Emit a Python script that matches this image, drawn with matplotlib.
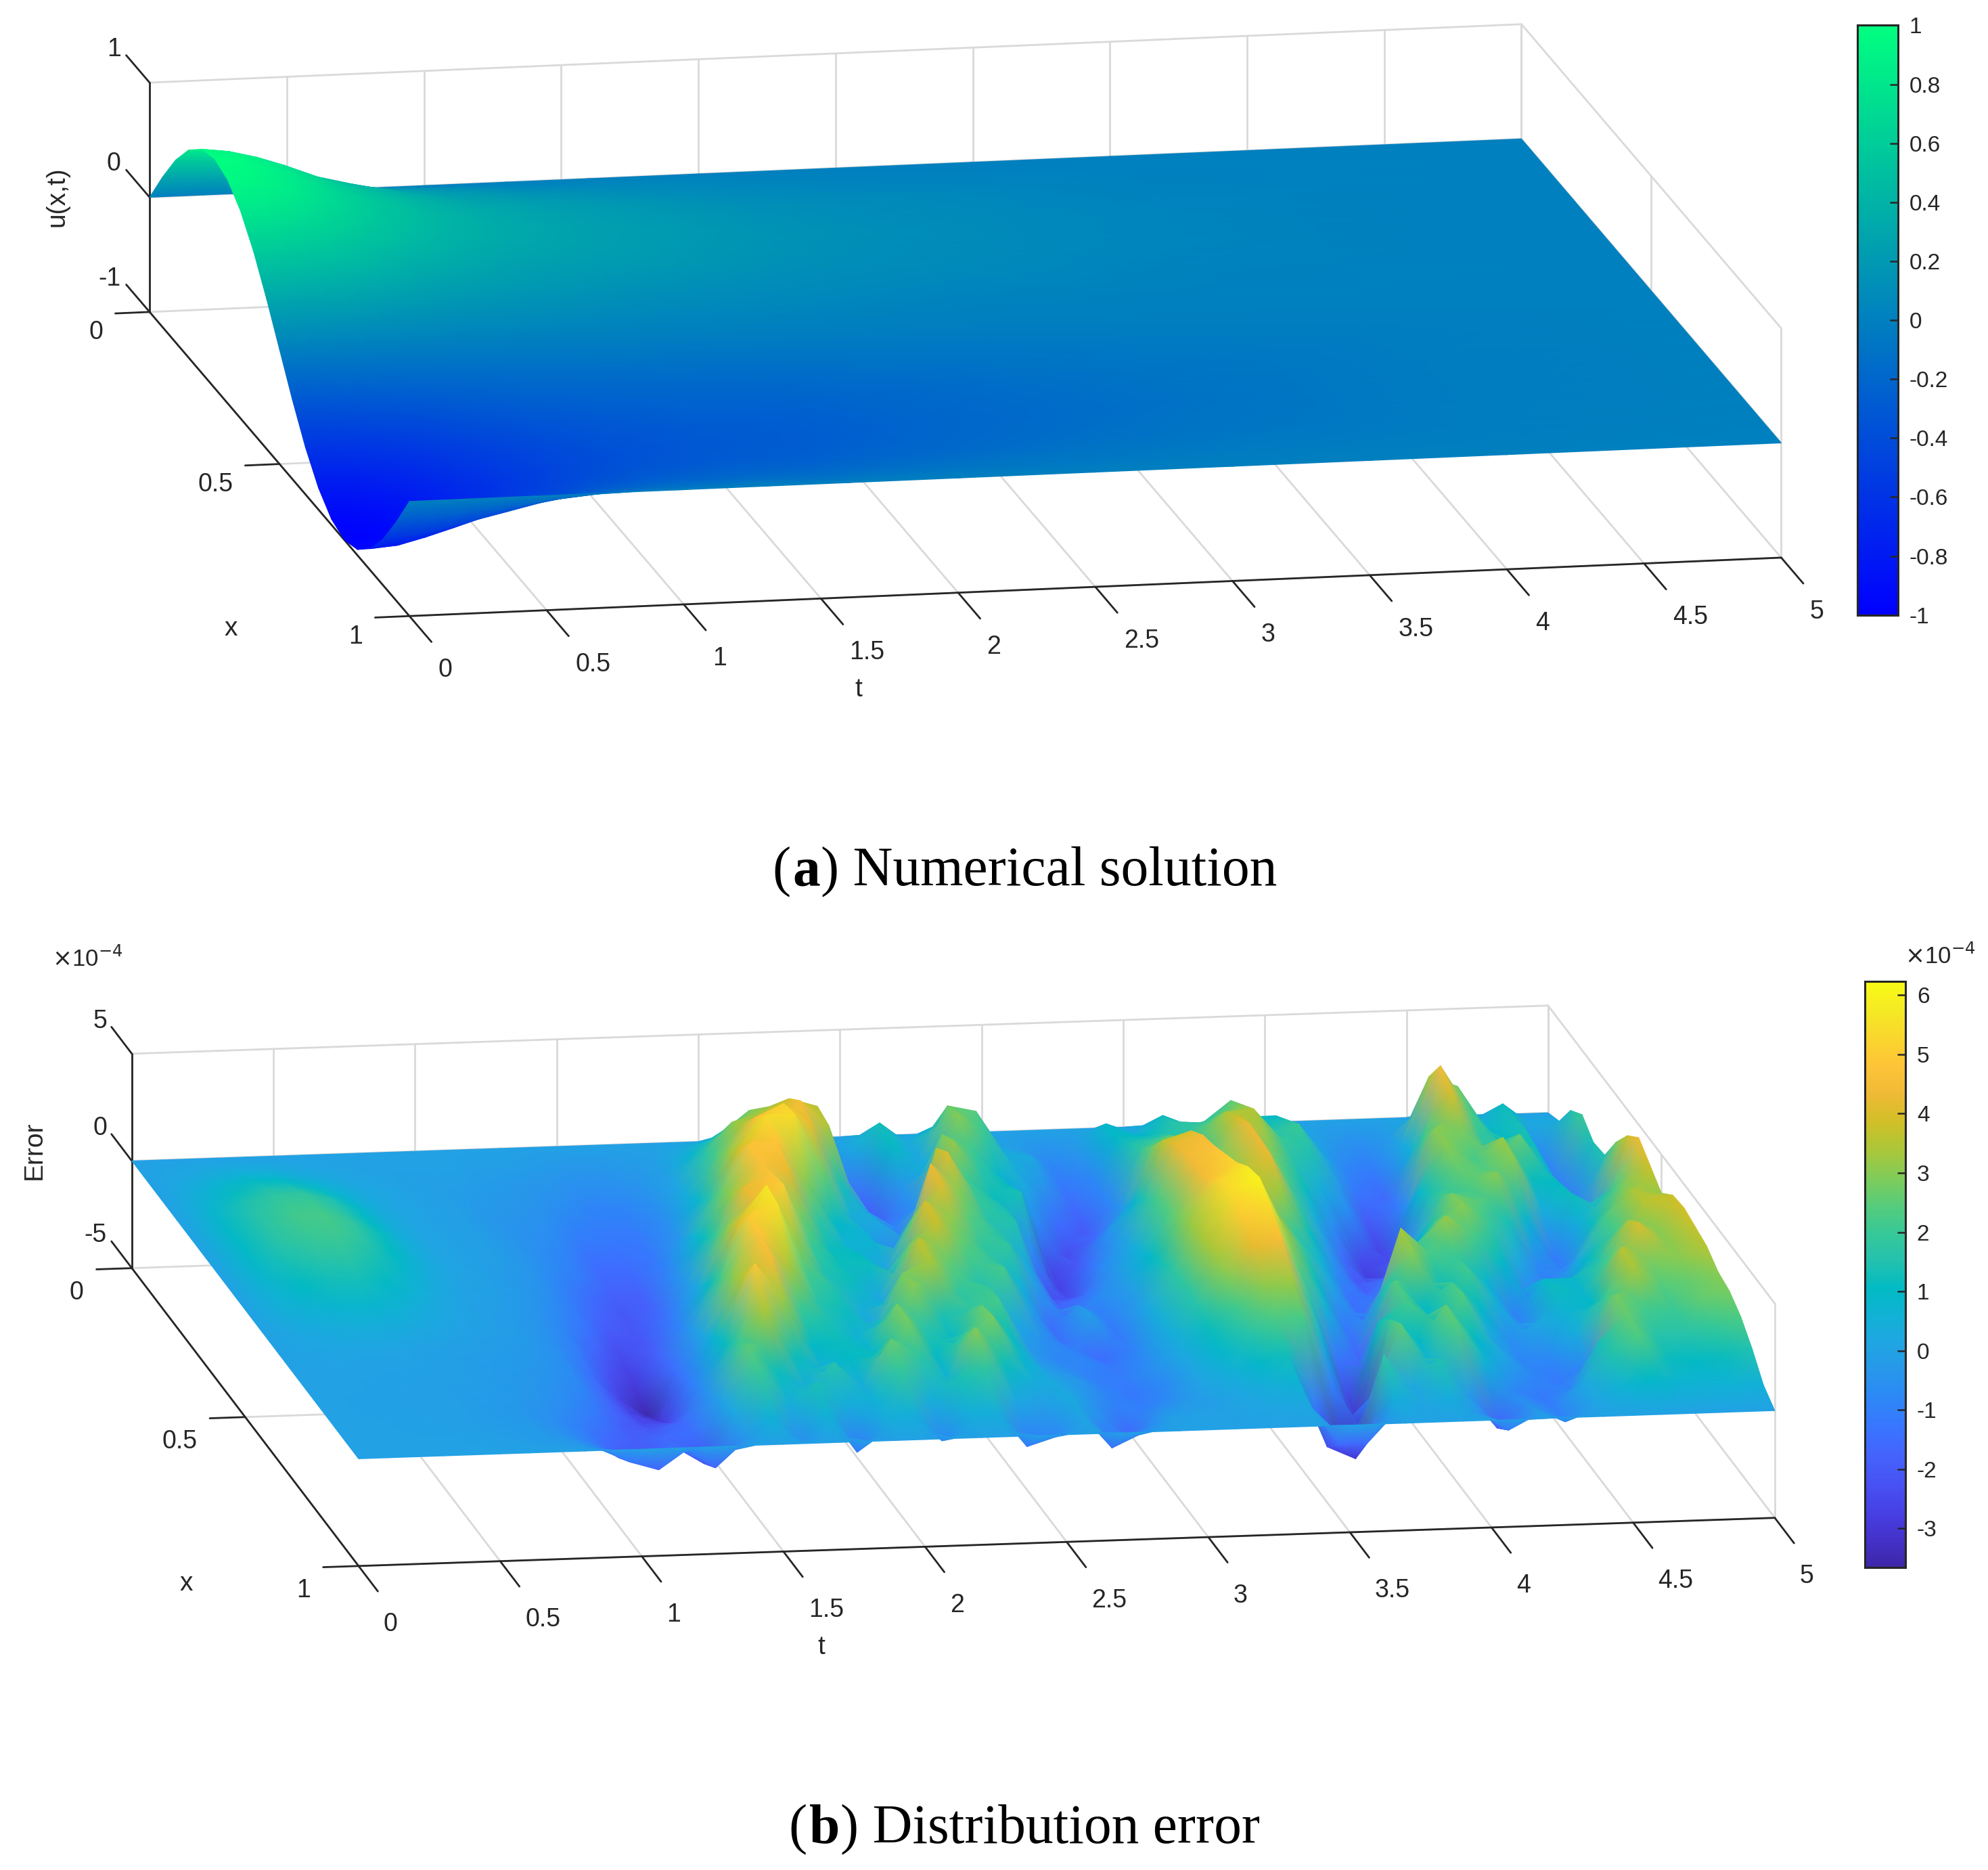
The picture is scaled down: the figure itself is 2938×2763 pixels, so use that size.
import matplotlib
matplotlib.use('Agg')
import matplotlib.pyplot as plt
import numpy as np
from matplotlib.cm import ScalarMappable
from matplotlib.colors import LinearSegmentedColormap, Normalize
from mpl_toolkits.mplot3d import proj3d

# Reference is 2938x2763, layout numbers below are in the 1568 wide preview
WIDTH = 2938
HEIGHT = 2763
SCALE = 2938 / 1568
TEXT = '#262626'
GRID = '#d9d9d9'

plt.rcParams['font.family'] = ['Liberation Sans', 'DejaVu Sans']

PARULA = [
    (0.2422, 0.1504, 0.6603), (0.2647, 0.1978, 0.7952), (0.2783, 0.2559, 0.8991),
    (0.2810, 0.3228, 0.9579), (0.2699, 0.3892, 0.9906), (0.2206, 0.4603, 0.9973),
    (0.1786, 0.5289, 0.9682), (0.1540, 0.5902, 0.9218), (0.1248, 0.6459, 0.8883),
    (0.0689, 0.6948, 0.8394), (0.0067, 0.7312, 0.7660), (0.1408, 0.7584, 0.6842),
    (0.2161, 0.7843, 0.5923), (0.3406, 0.8008, 0.4789), (0.5044, 0.7993, 0.3480),
    (0.6720, 0.7793, 0.2227), (0.8203, 0.7498, 0.1535), (0.9393, 0.7288, 0.2100),
    (0.9970, 0.7659, 0.2199), (0.9786, 0.8386, 0.1766), (0.9597, 0.9135, 0.1423),
    (0.9769, 0.9839, 0.0805),
]

# Panel (a), u(x,t): one row per t
u_x = [i * 0.05 for i in range(21)]
u_t = [0, .1, .2, .3, .45, .6, .8, 1, 1.3, 1.6, 2, 2.5, 3, 3.5, 4, 5]
u_by_t = [
    [0, .31, .59, .81, .95, 1, .95, .81, .59, .31, 0, -.31, -.59, -.81, -.95, -1, -.95, -.81, -.59, -.31, 0],
    [0, .3, .57, .79, .92, .97, .92, .79, .57, .3, 0, -.3, -.57, -.79, -.92, -.97, -.92, -.79, -.57, -.3, 0],
    [0, .28, .53, .73, .86, .9, .86, .73, .53, .28, 0, -.28, -.53, -.73, -.86, -.9, -.86, -.73, -.53, -.28, 0],
    [0, .25, .48, .66, .78, .82, .78, .66, .48, .25, 0, -.25, -.48, -.66, -.78, -.82, -.78, -.66, -.48, -.25, 0],
    [0, .21, .4, .54, .64, .67, .64, .54, .4, .21, 0, -.21, -.4, -.54, -.64, -.67, -.64, -.54, -.4, -.21, 0],
    [0, .17, .32, .45, .52, .55, .52, .45, .32, .17, 0, -.17, -.32, -.45, -.52, -.55, -.52, -.45, -.32, -.17, 0],
    [0, .13, .25, .35, .41, .43, .41, .35, .25, .13, 0, -.13, -.25, -.35, -.41, -.43, -.41, -.35, -.25, -.13, 0],
    [0, .11, .21, .28, .33, .35, .33, .28, .21, .11, 0, -.11, -.21, -.29, -.34, -.36, -.34, -.29, -.21, -.11, 0],
    [0, .08, .16, .22, .26, .27, .26, .22, .16, .08, 0, -.09, -.18, -.24, -.29, -.3, -.29, -.24, -.18, -.09, 0],
    [0, .07, .13, .18, .21, .22, .21, .18, .13, .07, 0, -.09, -.17, -.23, -.27, -.28, -.27, -.23, -.17, -.09, 0],
    [0, .05, .09, .13, .15, .16, .15, .13, .09, .05, 0, -.07, -.13, -.18, -.21, -.22, -.21, -.18, -.13, -.07, 0],
    [0, .03, .06, .09, .1, .11, .1, .09, .06, .03, 0, -.05, -.09, -.13, -.15, -.16, -.15, -.13, -.09, -.05, 0],
    [0, .02, .04, .06, .07, .07, .07, .06, .04, .02, 0, -.03, -.06, -.09, -.1, -.11, -.1, -.09, -.06, -.03, 0],
    [0, .01, .02, .03, .04, .04, .04, .03, .02, .01, 0, -.02, -.04, -.06, -.07, -.07, -.07, -.06, -.04, -.02, 0],
    [0, .01, .01, .02, .02, .02, .02, .02, .01, .01, 0, -.01, -.02, -.02, -.03, -.03, -.03, -.02, -.02, -.01, 0],
    [0] * 21,
]

# Panel (b), error in units of 1e-4: one row per x, t runs 0 to 5 in steps of 0.1
error_x = [i * 0.05 for i in range(21)]
error_t = [i * 0.1 for i in range(51)]
error_by_x = [
    [0] * 51,
    [0, .1, .2, .25, .25, .2, .1, .05, 0, 0,
     0, 0, -.1, -.1, -.2, -.3, -.3, -.2, -.1, .3,
     .8, 1.5, 1.6, 1, -.5, .3, 1.3, .3, 1.1, 1.1,
     .1, -.2, -.7, -.3, .9, .4, 1.2, .4, .8, 1,
     1, .2, -.3, -.7, -.2, .6, 1.5, .3, 1.2, .2, .3],
    [0, .25, .45, .6, .6, .45, .3, .15, .05, 0,
     -.1, -.1, -.2, -.3, -.4, -.6, -.6, -.4, -.1, .8,
     1.8, 2.8, 3, 2.2, -1.2, -1.6, 1.1, .2, 2.7, 2.4,
     .4, .2, -1.2, -.8, 1, 1, 1.6, 1.5, 2.5, 1.2,
     1.5, .3, -.8, -1.2, .2, 3.3, 2.8, .8, 1.3, -.8, 1.5],
    [0, .45, .8, 1, 1, .8, .55, .25, .1, 0,
     -.1, -.2, -.3, -.4, -.6, -.9, -.9, -.6, .1, 1.6,
     3, 3.4, 4, 3.6, -.4, -2, -.4, .6, 3, 1.8,
     .4, -.4, -1.6, -.9, 1.4, 1.6, 1.7, 2.4, 3, 1.6,
     2, .2, -1.2, -1.6, .6, 4.5, 2.4, 1, 1.4, -1, 2],
    [0, .65, 1.1, 1.4, 1.4, 1.15, .75, .35, .1, 0,
     -.1, -.3, -.4, -.5, -.9, -1.1, -1.1, -.7, .4, 2.2,
     3.6, 3.8, 4.6, 3.4, -.6, -1.4, -.6, 2.8, 2.2, .8,
     .2, -1.4, -2, -.8, 1.8, 2.4, 2, 3.4, 3.5, 2,
     1.5, -.2, -2, -1.2, 2, 4, 1.8, 1.6, 1.2, -1.2, 1.4],
    [0, .85, 1.45, 1.75, 1.8, 1.5, .95, .4, .1, 0,
     -.1, -.3, -.5, -.7, -1.2, -1.3, -1.2, -.6, .8, 3,
     4.6, 5.2, 4.2, 1.4, 0, -.8, .2, 3.2, 1.6, 1,
     -.8, -2.4, -1.6, -.2, 2.6, 3, 2.2, 3.9, 3.2, 1.6,
     .4, -.8, -2.6, -.6, 3, 2.8, 1.6, 2.6, .8, -1, 1.5],
    [0, .95, 1.6, 2, 2.05, 1.65, 1.05, .45, .1, 0,
     -.1, -.3, -.6, -.9, -1.5, -1.5, -1.2, -.2, 1.6, 3.8,
     5.4, 5.4, 2.6, .4, .2, -1.2, 3.6, 2.2, 1.2, 1.4,
     -2.7, -2, -.6, .8, 3.6, 4, 2.8, 4.3, 2.6, 1.2,
     -.6, -2.6, -2.4, .8, 3, 2.2, 3.2, 1.2, 1, -.6, 2.8],
    [0, 1, 1.7, 2.15, 2.2, 1.8, 1.15, .5, .1, 0,
     -.1, -.3, -.7, -1.1, -1.7, -1.7, -1, .6, 2.6, 4.8,
     4.8, 3, 1, .6, -.8, 1.6, 4.1, 2, 1.4, -.8,
     -2.7, -1.4, -.2, 1.6, 4.2, 4.5, 3, 4.3, 2.2, .4,
     -1.6, -3, -1.4, 1.4, 2.6, 2.4, 3, .3, 1.2, .4, 3.8],
    [0, .95, 1.6, 2, 2.1, 1.7, 1.05, .45, .1, 0,
     -.2, -.4, -.9, -1.5, -2, -1.8, -.6, 1.2, 3.2, 4.7,
     4.2, 1.8, .6, .7, -.4, 4.3, 3, 1.6, 1.5, -2.2,
     -2.3, -.8, .2, 2.2, 4.4, 4.7, 3.4, 4.2, 1.8, -.2,
     -2, -1.8, -.2, 2, 2.2, 3, .8, -1.2, .6, 2, 4.4],
    [0, .8, 1.35, 1.7, 1.75, 1.35, .85, .35, .05, -.05,
     -.2, -.5, -1.1, -1.8, -2.1, -1.6, -.2, 2, 4.2, 4.8,
     2.8, 1.2, 1, .1, 2.6, 4.1, 2.4, 1.6, .3, -1.8,
     -1.4, -.4, .6, 2.4, 4.4, 5, 3.8, 3.2, 1.2, -.8,
     -1.8, -.8, 1, 2.8, 2.4, 1.4, -.8, -1, 1.2, 2.8, 3.8],
    [0, .6, 1.05, 1.3, 1.35, 1, .6, .2, 0, -.1,
     -.3, -.7, -1.3, -2.2, -2.1, -1.2, .3, 3, 4.4, 5,
     2, 1.2, 1.2, .6, 4, 3, 1.8, 1.8, -.4, -1.6,
     -.8, -.2, 1, 2.8, 4.6, 5.3, 3.6, 2, .6, -1.4,
     -1.2, .2, 2.2, 3, 1.8, .2, -1.2, .2, 2.2, 3.4, 3.2],
    [0, .4, .65, .8, .8, .6, .35, .1, -.05, -.15,
     -.4, -.9, -1.7, -2.6, -1.9, -.8, 1.2, 4, 5.7, 3.2,
     1.5, 1.2, .2, 2.6, 3.8, 2.4, 1.8, .6, -1.5, -.4,
     -1, -.2, 1.4, 3.2, 5.2, 5.8, 3.6, 1.8, 0, -1.5,
     -.4, 2, 3.2, 2.2, 1, -1, -.8, 1, 2.2, 3.6, 3.8],
    [0, .2, .35, .4, .4, .3, .15, 0, -.1, -.2,
     -.5, -1.1, -2.2, -3, -1.6, -.2, 2.2, 5, 5.5, 2.2,
     1.5, .4, .6, 3.7, 2.6, 1.6, 2.2, -.2, -1.4, 0,
     -1.2, .2, 1.8, 3.4, 5.4, 6, 3.2, 1.2, -1.2, -.6,
     3.4, 2.2, 2, .8, -1, .8, .8, 1.6, 3.4, 3, 3.9],
    [0, .05, .15, .15, .1, 0, -.05, -.1, -.2, -.3,
     -.6, -1.4, -2.6, -3.6, -1.4, .2, 3, 4.8, 3.4, 1.6,
     1.2, .2, 2.8, 3.4, 1.8, 2, .3, -.6, -1, -1.5,
     -1, .4, 1.8, 3.4, 5, 5.4, 2.4, .4, -1.6, 1.4,
     3, 1.2, 2.1, .4, -.8, 1.2, .8, 2.4, 4, 3, 3.7],
    [0, 0, 0, 0, 0, -.05, -.1, -.15, -.25, -.4,
     -.7, -1.6, -2.6, -3, -1.2, .8, 3.6, 4.5, 2, 1.4,
     .6, 1.4, 3, 1.4, 1.8, 2.2, -.2, -.8, -.8, -1.2,
     -.8, .4, 1.6, 3, 4.2, 4.5, 1.6, -1.4, -1.8, 2.4,
     1, 2.2, 1, -.6, .2, .6, 1, 3.6, 2.8, 3, 3.5],
    [0, 0, 0, -.05, -.05, -.1, -.1, -.2, -.3, -.5,
     -.9, -1.7, -2.4, -2.4, -.8, 1.2, 4.9, 3.2, 1, 1.2,
     .8, 2.8, 1.6, .9, 2.6, 1.2, -.2, -.6, -1, -1.1,
     -.6, .3, 1.2, 2.2, 3.1, 3.2, .6, -3, 1.2, 2.2,
     1.2, 2.4, .2, -.8, -.8, .4, 2, 3.4, 2.4, 2.6, 3],
    [0, 0, -.05, -.05, -.1, -.1, -.15, -.25, -.4, -.7,
     -1.2, -1.9, -2, -1.6, -.4, 2, 3.4, 1.2, .5, 1,
     1.2, 2.8, 1, 2, 2.8, .8, 0, -.3, -.9, -1.2,
     -.8, .2, .9, 1.6, 2.4, 2.2, -1, -3, 2, 1,
     2.6, 1, .2, -.8, -1.2, -1, 2.8, 2.2, 2, 2.6, 2.8],
    [0, 0, -.05, -.05, -.1, -.1, -.2, -.3, -.6, -1,
     -1.6, -1.9, -1.6, -1.4, 0, 2.5, 1.2, .4, 1.6, .4,
     2.6, 1.8, .6, 3, 1.2, .4, .2, -.4, -1, -1,
     -.6, .1, .5, .9, 1.3, -1.2, -3.4, -.8, 2.5, .6,
     2.4, .6, -.8, -1.2, -.8, 1.4, 2.6, 1.6, 1.6, 2, 2.3],
    [0, 0, 0, -.05, -.05, -.1, -.15, -.25, -.5, -1,
     -1.8, -2.2, -1.4, -2.2, .2, 2, .4, 1.4, .4, .6,
     2, .4, 1.4, 1.8, .2, -.2, .3, -.6, -1.6, -.5,
     -.2, -.1, .2, .4, .7, -2.4, -3, 1.8, .2, 1.5,
     -.2, -1.8, -.6, -1, .2, 1.5, 2.4, 1.2, 1, 1.2, 1.5],
    [0, 0, 0, 0, 0, -.05, -.1, -.15, -.3, -.7,
     -1.3, -1.7, -.8, -1.7, -.4, .6, -.6, .6, -1.2, .4,
     .5, -.8, .5, .4, -1.2, -.8, .1, -1.4, -.8, -.1,
     0, 0, .05, .1, .2, -1.6, -1.6, .5, .1, .4,
     -.4, -1.2, -.3, -.9, .1, .6, 1, .7, .6, .6, .5],
    [0] * 51,
]

t_ticks = [0, .5, 1, 1.5, 2, 2.5, 3, 3.5, 4, 4.5, 5]
t_tick_labels = ['0', '0.5', '1', '1.5', '2', '2.5', '3', '3.5', '4', '4.5', '5']
x_ticks = [0, .5, 1]
x_tick_labels = ['0', '0.5', '1']
u_ticks = [-1, 0, 1]
u_tick_labels = ['-1', '0', '1']
error_ticks = [-5, 0, 5]
error_tick_labels = ['-5', '0', '5']
u_bar_ticks = [-1, -.8, -.6, -.4, -.2, 0, .2, .4, .6, .8, 1]
u_bar_labels = ['-1', '-0.8', '-0.6', '-0.4', '-0.2', '0', '0.2', '0.4', '0.6', '0.8', '1']
error_bar_ticks = [-3, -2, -1, 0, 1, 2, 3, 4, 5, 6]
error_bar_labels = ['-3', '-2', '-1', '0', '1', '2', '3', '4', '5', '6']


def to_fig(px, py):
    """Preview pixel (origin top left) to figure fraction"""
    return px * SCALE / WIDTH, 1 - py * SCALE / HEIGHT


def to_screen(ax, t, x, z):
    px, py, _ = proj3d.proj_transform(np.array([t]), np.array([x]), np.array([z]), ax.get_proj())
    return ax.transData.transform([[px[0], py[0]]])[0]


def fit_box(ax, aspect, zmin, origin, far):
    """Scale and shift the 3D box so its floor edge falls on the two given points"""
    ax.set_box_aspect(aspect, zoom=1)
    ax.apply_aspect()
    want0 = np.array([origin[0] * SCALE, HEIGHT - origin[1] * SCALE])
    want1 = np.array([far[0] * SCALE, HEIGHT - far[1] * SCALE])
    got = np.linalg.norm(to_screen(ax, 5, 0, zmin) - to_screen(ax, 0, 0, zmin))
    ax.set_box_aspect(aspect, zoom=np.linalg.norm(want1 - want0) / got)
    shift = want0 - to_screen(ax, 0, 0, zmin)
    pos = ax.get_position()
    ax.set_position([pos.x0 + shift[0] / WIDTH, pos.y0 + shift[1] / HEIGHT, pos.width, pos.height])


def line3(ax, p, q, color, lw=2.0):
    ax.plot([p[0], q[0]], [p[1], q[1]], [p[2], q[2]], color=color, lw=lw, clip_on=False,
            solid_capstyle='round')


def label3(ax, t, x, z, label, ha):
    # tick labels sit at a projected point, in figure coordinates
    sx, sy = to_screen(ax, t, x, z)
    fig.text(sx / WIDTH, sy / HEIGHT, label, ha=ha, va='center', color=TEXT, fontsize=27)


def draw_box(ax, zmin, zmax, z_ticks, z_labels, z_drop):
    mid = (zmin + zmax) / 2
    # walls and floor
    for t in t_ticks:
        line3(ax, (t, 0, zmin), (t, 1, zmin), GRID)
        line3(ax, (t, 0, zmin), (t, 0, zmax), GRID)
    for x in x_ticks:
        line3(ax, (0, x, zmin), (5, x, zmin), GRID)
        line3(ax, (5, x, zmin), (5, x, zmax), GRID)
    for z in (mid, zmax):
        line3(ax, (0, 0, z), (5, 0, z), GRID)
        line3(ax, (5, 0, z), (5, 1, z), GRID)
    # axes
    line3(ax, (0, 0, zmin), (0, 0, zmax), TEXT)
    line3(ax, (0, 0, zmin), (0, 1, zmin), TEXT)
    line3(ax, (0, 1, zmin), (5, 1, zmin), TEXT)
    for t, label in zip(t_ticks, t_tick_labels):
        line3(ax, (t, 1, zmin), (t, 1.085, zmin), TEXT)
        label3(ax, t, 1.11, zmin - z_drop, label, 'left')
    for x, label in zip(x_ticks, x_tick_labels):
        line3(ax, (0, x, zmin), (-.125, x, zmin), TEXT)
        label3(ax, -.17, x, zmin - z_drop * .9, label, 'right')
    for z, label in zip(z_ticks, z_labels):
        line3(ax, (0, 0, z), (0, -.09, z), TEXT)
        label3(ax, 0, -.11, z, label, 'right')


def draw_surface(ax, x_values, t_values, z_values, cmap, norm):
    # far rows first and later t first, so the mesh paints back to front
    grid_t, grid_x = np.meshgrid(np.array(t_values)[::-1], np.array(x_values))
    zs = np.array(z_values, dtype=float)[:, ::-1]
    px, py, _ = proj3d.proj_transform(grid_t.ravel(), grid_x.ravel(), zs.ravel(), ax.get_proj())
    top = fig.add_axes(ax.get_position())
    top.set_axis_off()
    top.pcolormesh(px.reshape(zs.shape), py.reshape(zs.shape), zs, shading='gouraud', cmap=cmap,
                   norm=norm, transform=ax.transData, clip_on=False)


def draw_bar(left, right, top, bottom, cmap, norm, ticks, labels):
    x0, y1 = to_fig(left, top)
    x1, y0 = to_fig(right, bottom)
    cax = fig.add_axes([x0, y0, x1 - x0, y1 - y0])
    bar = fig.colorbar(ScalarMappable(norm=norm, cmap=cmap), cax=cax)
    bar.set_ticks(ticks)
    bar.set_ticklabels(labels)
    bar.ax.tick_params(direction='in', length=9, width=1.8, color=TEXT, labelsize=24,
                       labelcolor=TEXT, pad=12)
    bar.outline.set_edgecolor(TEXT)
    bar.outline.set_linewidth(2.2)


def caption(letter, rest, left, y):
    fx, fy = to_fig(left, y)
    opts = dict(family='Liberation Serif', fontsize=58.7, color='black', va='center')
    renderer = fig.canvas.get_renderer()
    for part, weight in (('(', 'normal'), (letter, 'bold'), (') ' + rest, 'normal')):
        txt = fig.text(fx, fy, part, fontweight=weight, **opts)
        fx = txt.get_window_extent(renderer).x1 / WIDTH + (0.0012 if part == '(' else 0)


def new_box(elev, azim, zlim):
    ax = fig.add_axes([0, 0, HEIGHT / WIDTH, 1], projection='3d', proj_type='ortho')
    ax.set_axis_off()
    ax.patch.set_visible(False)
    ax.view_init(elev=elev, azim=azim, roll=0)
    ax.set_xlim(0, 5, view_margin=0)
    ax.set_ylim(1, 0, view_margin=0)
    ax.set_zlim(zlim[0], zlim[1], view_margin=0)
    return ax


fig = plt.figure(figsize=(WIDTH / 100, HEIGHT / 100), dpi=100)

# Panel (a)
winter = plt.get_cmap('winter')
u_norm = Normalize(-1, 1)
ax_a = new_box(12.9, -100.8, (-1, 1))
fit_box(ax_a, (1102, 1094, 185.6), -1, (118, 246), (1200, 200))
draw_box(ax_a, -1, 1, u_ticks, u_tick_labels, .18)
draw_surface(ax_a, u_x, u_t, np.array(u_by_t).T, winter, u_norm)
draw_bar(1465, 1497, 20, 485, winter, u_norm, u_bar_ticks, u_bar_labels)
for text, px, py, rot in (('t', 677, 544, 0), ('x', 182, 496, 0), ('u(x,t)', 45, 155, 90)):
    fx, fy = to_fig(px, py)
    fig.text(fx, fy, text, ha='center', va='center', rotation=rot, color=TEXT, fontsize=28)

# Panel (b)
parula = LinearSegmentedColormap.from_list('parula', PARULA, N=256)
error_norm = Normalize(-3.66, 6.23)
ax_b = new_box(12.2, -99.14, (-5, 5))
fit_box(ax_b, (1131.6, 1126, 173), -5, (104, 1000), (1221, 962))
draw_box(ax_b, -5, 5, error_ticks, error_tick_labels, 1.2)
draw_surface(ax_b, error_x, error_t, error_by_x, parula, error_norm)
draw_bar(1471, 1503, 774, 1236, parula, error_norm, error_bar_ticks, error_bar_labels)
for text, px, py, rot in (('t', 648, 1299, 0), ('x', 147, 1249, 0), ('Error', 27, 907, 90)):
    fx, fy = to_fig(px, py)
    fig.text(fx, fy, text, ha='center', va='center', rotation=rot, color=TEXT, fontsize=28)
for px, py in ((69, 756), (1530, 754)):
    fx, fy = to_fig(px, py)
    fig.text(fx, fy, r'$\times$10$^{-4}$', ha='center', va='center', color=TEXT, fontsize=25)

# Captions
fig.canvas.draw()
caption('a', 'Numerical solution', 609, 688)
caption('b', 'Distribution error', 622, 1443)

fig.savefig('out.png', dpi=100)
